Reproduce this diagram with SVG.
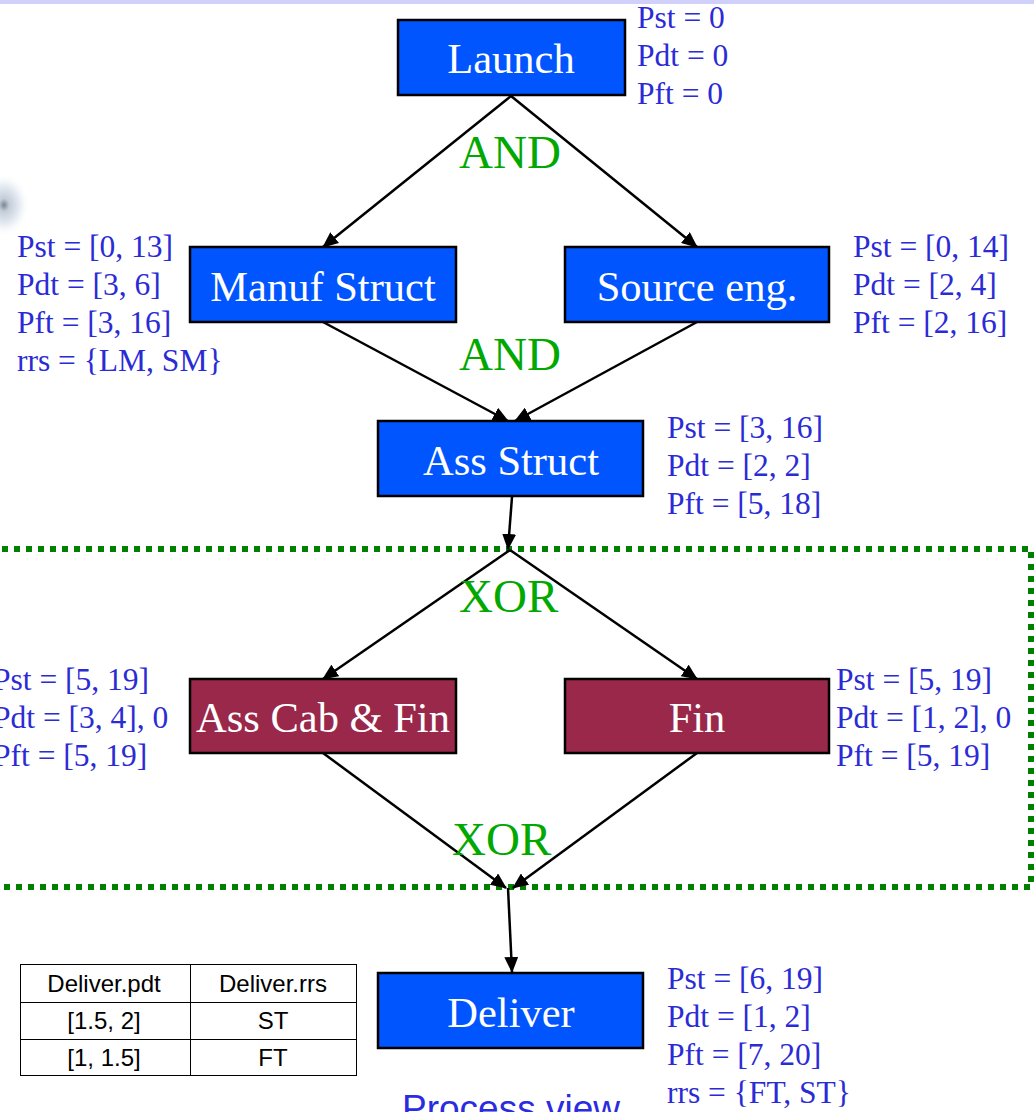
<svg xmlns="http://www.w3.org/2000/svg" width="1034" height="1112" viewBox="0 0 1034 1112">
<defs>
<marker id="arr" markerUnits="userSpaceOnUse" markerWidth="16" markerHeight="14" refX="15" refY="7" orient="auto">
<path d="M0,0 L16,7 L0,14 Z" fill="#000"/>
</marker>
<radialGradient id="blob" cx="0.5" cy="0.5" r="0.5">
<stop offset="0" stop-color="#7a8494"/>
<stop offset="0.2" stop-color="#c4ccd8"/>
<stop offset="0.6" stop-color="#e6ecf3"/>
<stop offset="1" stop-color="#ffffff" stop-opacity="0"/>
</radialGradient>
</defs>
<style>
.box{stroke:#000;stroke-width:2.5}
.blue{fill:#0055ff}
.red{fill:#99284a}
.bt{font-family:"Liberation Serif",serif;font-size:42.5px;fill:#fff;text-anchor:middle}
.lbl{font-family:"Liberation Serif",serif;font-size:31.5px;fill:#2b2bd6}
.gate{font-family:"Liberation Serif",serif;font-size:47px;fill:#00a800}
.conn{stroke:#000;stroke-width:2.5;fill:none;marker-end:url(#arr)}
.tbl{font-family:"Liberation Sans",Arial,sans-serif;font-size:24px;fill:#000;text-anchor:middle}
</style>
<rect width="1034" height="1112" fill="#fff"/>
<rect x="0" y="0" width="1034" height="4" fill="#d0d0fa"/>
<ellipse cx="4" cy="205" rx="26" ry="32" fill="url(#blob)"/>

<rect x="-10" y="549" width="1041" height="338" fill="none" stroke="#007f00" stroke-width="6" stroke-dasharray="6 6"/>

<g id="connectors">
<line class="conn" x1="511" y1="96" x2="323" y2="247"/>
<line class="conn" x1="511" y1="96" x2="697" y2="247"/>
<line class="conn" x1="323" y1="322" x2="508" y2="421"/>
<line class="conn" x1="697" y1="322" x2="515" y2="421"/>
<line class="conn" x1="512" y1="497" x2="508" y2="549"/>
<line class="conn" x1="510" y1="550" x2="323" y2="679"/>
<line class="conn" x1="510" y1="550" x2="697" y2="679"/>
<line class="conn" x1="323" y1="753" x2="506" y2="888"/>
<line class="conn" x1="697" y1="753" x2="513" y2="888"/>
<line class="conn" x1="508" y1="888" x2="512" y2="972"/>
</g>

<g id="launch">
<rect class="box blue" x="398" y="20" width="227" height="75"/>
<text class="bt" x="511" y="73">Launch</text>
<text class="lbl" x="637" y="28">Pst = 0</text>
<text class="lbl" x="637" y="66">Pdt = 0</text>
<text class="lbl" x="637" y="104">Pft = 0</text>
</g>
<text class="gate" x="459" y="168">AND</text>

<g id="manuf">
<rect class="box blue" x="190" y="247" width="266" height="75"/>
<text class="bt" x="323" y="301">Manuf Struct</text>
<text class="lbl" x="17" y="257">Pst = [0, 13]</text>
<text class="lbl" x="17" y="295">Pdt = [3, 6]</text>
<text class="lbl" x="17" y="333">Pft = [3, 16]</text>
<text class="lbl" x="17" y="371">rrs = {LM, SM}</text>
</g>

<g id="source">
<rect class="box blue" x="565" y="247" width="264" height="75"/>
<text class="bt" x="697" y="301">Source eng.</text>
<text class="lbl" x="853" y="257">Pst = [0, 14]</text>
<text class="lbl" x="853" y="295">Pdt = [2, 4]</text>
<text class="lbl" x="853" y="333">Pft = [2, 16]</text>
</g>
<text class="gate" x="459" y="370">AND</text>

<g id="assstruct">
<rect class="box blue" x="378" y="421" width="265" height="75"/>
<text class="bt" x="511" y="475">Ass Struct</text>
<text class="lbl" x="667" y="438">Pst = [3, 16]</text>
<text class="lbl" x="667" y="476">Pdt = [2, 2]</text>
<text class="lbl" x="667" y="514">Pft = [5, 18]</text>
</g>
<text class="gate" x="459" y="612">XOR</text>

<g id="asscab">
<rect class="box red" x="190" y="679" width="266" height="74"/>
<text class="bt" x="323" y="732">Ass Cab &amp; Fin</text>
<text class="lbl" x="-7" y="690">Pst = [5, 19]</text>
<text class="lbl" x="-7" y="728">Pdt = [3, 4], 0</text>
<text class="lbl" x="-7" y="766">Pft = [5, 19]</text>
</g>

<g id="fin">
<rect class="box red" x="565" y="679" width="264" height="74"/>
<text class="bt" x="697" y="732">Fin</text>
<text class="lbl" x="836" y="690">Pst = [5, 19]</text>
<text class="lbl" x="836" y="728">Pdt = [1, 2], 0</text>
<text class="lbl" x="836" y="766">Pft = [5, 19]</text>
</g>
<text class="gate" x="452" y="855">XOR</text>

<g id="deliver">
<rect class="box blue" x="378" y="973" width="265" height="75"/>
<text class="bt" x="511" y="1027">Deliver</text>
<text class="lbl" x="667" y="989">Pst = [6, 19]</text>
<text class="lbl" x="667" y="1027">Pdt = [1, 2]</text>
<text class="lbl" x="667" y="1065">Pft = [7, 20]</text>
<text class="lbl" x="667" y="1103">rrs = {FT, ST}</text>
</g>

<g id="table">
<rect x="20.5" y="964.5" width="336" height="111" fill="#fff" stroke="#000" stroke-width="1"/>
<line x1="20" y1="1002.5" x2="356" y2="1002.5" stroke="#000" stroke-width="1"/>
<line x1="20" y1="1039.5" x2="356" y2="1039.5" stroke="#000" stroke-width="1"/>
<line x1="190.5" y1="964" x2="190.5" y2="1076" stroke="#000" stroke-width="1"/>
<text class="tbl" x="104" y="992">Deliver.pdt</text>
<text class="tbl" x="273" y="992">Deliver.rrs</text>
<text class="tbl" x="104" y="1029">[1.5, 2]</text>
<text class="tbl" x="273" y="1029">ST</text>
<text class="tbl" x="104" y="1066">[1, 1.5]</text>
<text class="tbl" x="273" y="1066">FT</text>
</g>

<text x="402" y="1121" font-family="Liberation Sans, Arial, sans-serif" font-size="37" fill="#2b2be0">Process view</text>
</svg>
